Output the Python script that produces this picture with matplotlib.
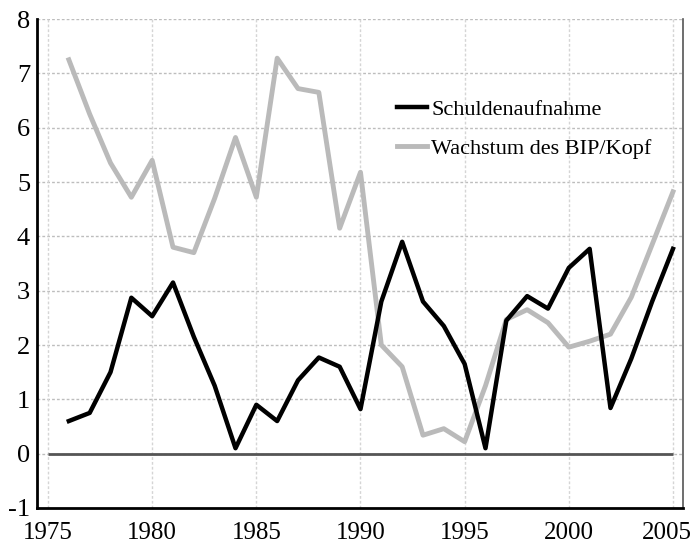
import matplotlib
matplotlib.use("Agg")
import matplotlib.pyplot as plt
import matplotlib.transforms as mtransforms

years = list(range(1976, 2006))
schulden = [0.6, 0.75, 1.5, 2.87, 2.53, 3.15, 2.15, 1.25, 0.1, 0.9,
            0.6, 1.35, 1.77, 1.6, 0.82, 2.8, 3.9, 2.8, 2.35, 1.65,
            0.1, 2.45, 2.9, 2.67, 3.42, 3.77, 0.84, 1.75, 2.8, 3.77]
bip_wachstum = [7.25, 6.25, 5.35, 4.72, 5.4, 3.8, 3.7, 4.7, 5.82, 4.72,
                7.28, 6.72, 6.65, 4.15, 5.18, 2.0, 1.6, 0.34, 0.46, 0.22,
                1.25, 2.47, 2.65, 2.41, 1.96, 2.07, 2.2, 2.88, 3.85, 4.82]
x_ticks = [1975, 1980, 1985, 1990, 1995, 2000, 2005]
y_ticks = [-1, 0, 1, 2, 3, 4, 5, 6, 7, 8]

plt.rcParams['font.family'] = ['Liberation Serif', 'DejaVu Serif']
plt.rcParams['axes.unicode_minus'] = False

fig = plt.figure(figsize=(6.95, 5.44), dpi=100)
ax = fig.add_axes([0.0532, 0.0662, 0.9295, 0.8988])

ax.set_xlim(1974.47, 2005.48)
ax.set_ylim(-1, 8)
ax.set_xticks(x_ticks)
ax.set_yticks(y_ticks)
ax.tick_params(length=0)
ax.tick_params(axis="x", pad=10, labelsize=18)
ax.tick_params(axis="y", pad=5, labelsize=19)

# last year label sits a little left of its gridline, as in the source
last = ax.get_xticklabels()[-1]
last.set_transform(last.get_transform() + mtransforms.ScaledTranslation(-6 / 100, 0, fig.dpi_scale_trans))

for v in y_ticks[1:]:
    ax.axhline(v, color="#bdbdbd", lw=1.0, ls=(0, (2, 1.5)), zorder=0)
for v in x_ticks:
    ax.axvline(v, color="#d5d5d5", lw=1.0, ls=(0, (2, 1.5)), zorder=0)

ax.hlines(0, 1975, 2005, color="#555555", lw=2, zorder=1)

ax.plot(years, bip_wachstum, color="#bababa", lw=3.5, label="Wachstum des BIP/Kopf", zorder=2)
ax.plot(years, schulden, color="black", lw=3.2, label="Schuldenaufnahme", zorder=3)

ax.spines["top"].set_visible(False)
ax.spines["left"].set_linewidth(2)
ax.spines["bottom"].set_linewidth(2)
ax.spines["right"].set_color("#555555")
ax.spines["right"].set_linewidth(1.2)

handles, labels = ax.get_legend_handles_labels()
ax.legend(handles[::-1], labels[::-1], loc="upper left", bbox_to_anchor=(0.557, 0.836),
          frameon=False, fontsize=16, handlelength=1.35, handletextpad=0.2,
          labelspacing=0.85, borderpad=0, borderaxespad=0)

fig.savefig("out.png", dpi=100)
